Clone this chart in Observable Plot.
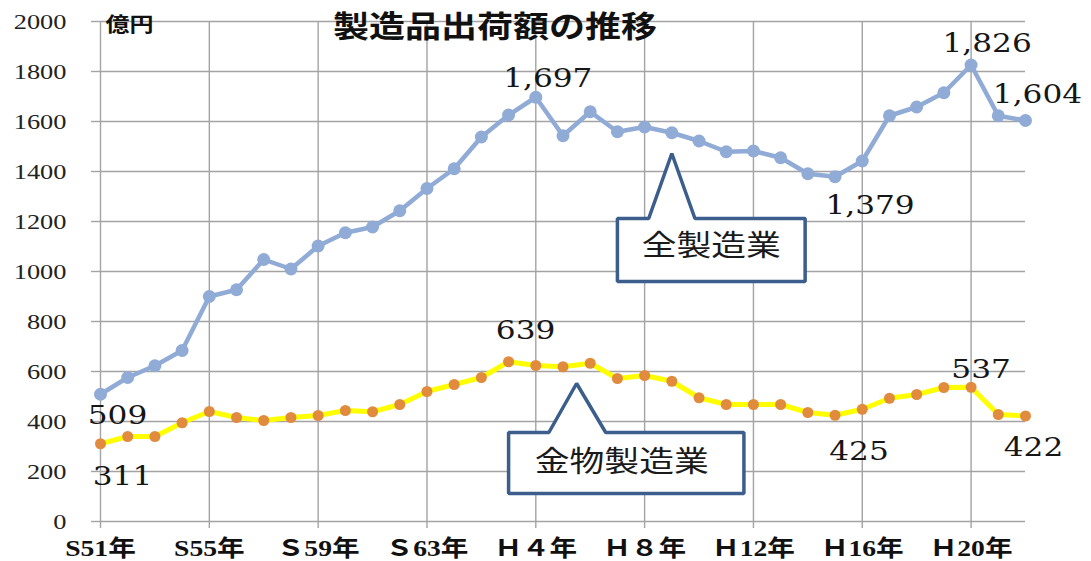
<!DOCTYPE html>
<html>
<head>
<meta charset="utf-8">
<script src="https://cdn.jsdelivr.net/npm/d3@7"></script>
<script src="https://cdn.jsdelivr.net/npm/@observablehq/plot@0.6"></script>
<style>
  html, body { margin: 0; padding: 0; background: #fff; }
  #chart svg { display: block; }
</style>
</head>
<body>
<div id="chart"></div>
<script>
// 年次 (S51 = 1976 … H22 = 2010)
const years = [
  "S51","S52","S53","S54","S55","S56","S57","S58","S59","S60","S61","S62","S63",
  "H1","H2","H3","H4","H5","H6","H7","H8","H9","H10","H11","H12","H13","H14",
  "H15","H16","H17","H18","H19","H20","H21","H22"
];

// 全製造業 出荷額 (億円)
const allMfg = [
  509, 576, 623, 684, 900, 927, 1048, 1010, 1102, 1155, 1178, 1243, 1332,
  1411, 1538, 1626, 1697, 1543, 1639, 1559, 1578, 1555, 1522, 1479, 1482, 1455,
  1391, 1379, 1442, 1623, 1658, 1715, 1826, 1623, 1604
];

// 金物製造業 出荷額 (億円)
const hardware = [
  311, 340, 340, 395, 440, 416, 404, 416, 424, 444, 439, 468, 520,
  548, 576, 639, 624, 619, 633, 572, 584, 561, 495, 468, 468, 468,
  436, 425, 449, 493, 508, 536, 537, 428, 422
];

// 軸の目盛
const tickYears = ["S51","S55","S59","S63","H4","H8","H12","H16","H20"];
const tickLabels = ["S51年","S55年","Ｓ59年","Ｓ63年","Ｈ４年","Ｈ８年","Ｈ12年","Ｈ16年","Ｈ20年"];
const yTicks = [0, 200, 400, 600, 800, 1000, 1200, 1400, 1600, 1800, 2000];

// 値ラベルを付ける年と配置
const allMfgLabels = [
  {year: "S51", dx: 17, dy: 21},
  {year: "H4",  dx: 12, dy: -19},
  {year: "H15", dx: 35, dy: 29},
  {year: "H20", dx: 16, dy: -21},
  {year: "H22", dx: 12, dy: -26}
];
const hardwareLabels = [
  {year: "S51", dx: 22, dy: 33},
  {year: "H3",  dx: 17, dy: -31},
  {year: "H15", dx: 24, dy: 36},
  {year: "H20", dx: 10, dy: -18},
  {year: "H22", dx: 8,  dy: 32}
];

// 吹き出し (x: 年の位置, y: 億円)
const calloutAll = [
  [19.0, 1212], [20.15, 1212], [21.0, 1472], [21.85, 1212],
  [25.9, 1212], [25.9, 960], [19.0, 960]
];
const calloutHardware = [
  [15.0, 356], [16.48, 356], [17.5, 552], [18.57, 356],
  [23.65, 356], [23.65, 112], [15.0, 112]
];

const idx = y => years.indexOf(y);
const fmt = d3.format(",");
const serif = "DejaVu Serif, Liberation Serif, Noto Sans CJK JP, serif";
const times = "Liberation Serif, DejaVu Serif, Noto Sans CJK JP, serif";
const jp = "Noto Sans CJK JP, Noto Sans, sans-serif";

const allRows = allMfg.map((v, i) => ({i, v}));
const hwRows = hardware.map((v, i) => ({i, v}));
const labelRows = (series, spec) => spec.map(s => ({i: idx(s.year), v: series[idx(s.year)], dx: s.dx, dy: s.dy}));

const blue = "#90abd5";
const yellow = "#ffff00";
const orange = "#e08b3e";
const frameBlue = "#3b5e8c";
const grid = "#a3a3a3";

const marks = [
  Plot.gridY(yTicks, {stroke: grid, strokeOpacity: 1, strokeWidth: 1.4}),
  Plot.gridX(tickYears.map(idx), {stroke: grid, strokeOpacity: 1, strokeWidth: 1.4}),
  // 目盛線のみ (文字は下で描く)
  Plot.axisY({ticks: yTicks, tickSize: 9, stroke: grid, strokeWidth: 1.4, label: null, tickFormat: () => ""}),
  Plot.axisX({ticks: tickYears.map(idx), tickSize: 7, stroke: grid, strokeWidth: 1.4, label: null, tickFormat: () => ""}),
  // 目盛の文字
  Plot.text(yTicks, {y: d => d, frameAnchor: "left", textAnchor: "end", dx: -34, text: d => String(d),
    fontFamily: times, fontSize: 22, fill: "#222"}),
  Plot.text(tickYears, {x: idx, frameAnchor: "bottom", lineAnchor: "middle", dy: 27,
    text: (d, i) => tickLabels[i], fontFamily: times, fontSize: 23, fontWeight: "bold", fill: "#111"}),
  // 全製造業
  Plot.line(allRows, {x: "i", y: "v", stroke: blue, strokeWidth: 4.5}),
  Plot.dot(allRows, {x: "i", y: "v", r: 6.5, fill: blue, stroke: "none"}),
  // 金物製造業
  Plot.line(hwRows, {x: "i", y: "v", stroke: yellow, strokeWidth: 5}),
  Plot.dot(hwRows, {x: "i", y: "v", r: 5.5, fill: orange, stroke: "none"}),
  // 値ラベル
  ...[...labelRows(allMfg, allMfgLabels), ...labelRows(hardware, hardwareLabels)].map(d =>
    Plot.text([d], {x: "i", y: "v", text: r => fmt(r.v), dx: d.dx, dy: d.dy,
      fontFamily: serif, fontSize: 26, fill: "#161616"})
  ),
  // 吹き出し
  Plot.line(calloutAll, {x: d => d[0], y: d => d[1], curve: "linear-closed",
    fill: "white", stroke: frameBlue, strokeWidth: 3.5, strokeLinejoin: "miter"}),
  Plot.line(calloutHardware, {x: d => d[0], y: d => d[1], curve: "linear-closed",
    fill: "white", stroke: frameBlue, strokeWidth: 3.5, strokeLinejoin: "miter"}),
  Plot.text(["全製造業"], {x: 22.45, y: 1100, fontFamily: jp, fontSize: 29, fill: "#1a1a1a"}),
  Plot.text(["金物製造業"], {x: 19.16, y: 236, fontFamily: jp, fontSize: 29, fill: "#1a1a1a"}),
  // 見出し
  Plot.text(["製造品出荷額の推移"], {frameAnchor: "top", lineAnchor: "middle", dx: -68, dy: 6,
    fontFamily: jp, fontSize: 30, fontWeight: "bold", fill: "#111"}),
  Plot.text(["億円"], {frameAnchor: "top-left", textAnchor: "start", lineAnchor: "middle", dx: 5, dy: 4,
    fontFamily: jp, fontSize: 20, fontWeight: "bold", fill: "#111"})
];

const chart = Plot.plot({
  width: 1091,
  height: 561,
  marginLeft: 100,
  marginRight: 66,
  marginTop: 21,
  marginBottom: 40,
  x: {type: "linear", domain: [0, years.length - 1]},
  y: {domain: [0, 2000]},
  style: {background: "white", overflow: "visible"},
  marks
});

document.getElementById("chart").appendChild(chart);

// 文字を横長に整える
chart.querySelectorAll("text").forEach(t => {
  const len = t.getComputedTextLength();
  if (len > 0) {
    t.setAttribute("textLength", (len * 1.2).toFixed(1));
    t.setAttribute("lengthAdjust", "spacingAndGlyphs");
  }
});
</script>
</body>
</html>
